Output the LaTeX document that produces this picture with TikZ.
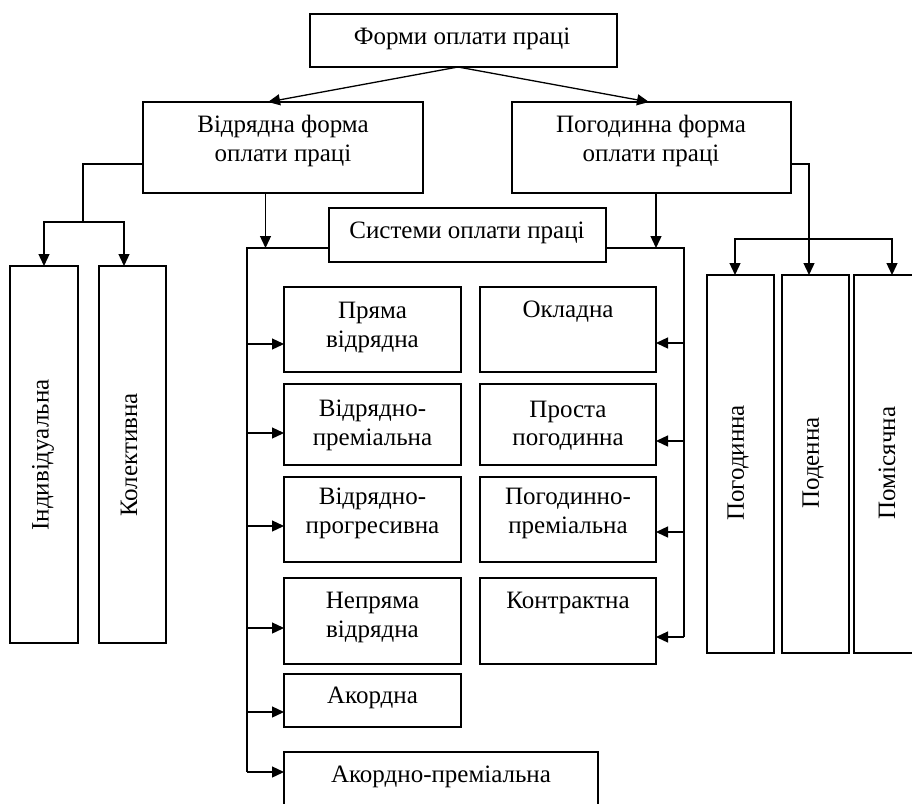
\documentclass[tikz,border=0pt]{standalone}
\usepackage{fontspec}
\setmainfont{Liberation Serif}
\usetikzlibrary{arrows.meta}
\begin{document}
\begin{tikzpicture}[x=1pt,y=-1pt,
 box/.style={draw, line width=1.3pt, anchor=north west, inner sep=0pt, outer sep=0pt},
 txt/.style={align=center, inner sep=0pt, font=\fontsize{25}{28.5}\selectfont},
 arr/.style={-{Triangle[length=12pt,width=11pt]}, line width=1.3pt},
 ln/.style={line width=1.3pt}]
\clip (0,0) rectangle (912,803);
% boxes
\node[box, minimum width=307pt, minimum height=53pt] (top) at (310,14) {};
\node[box, minimum width=280pt, minimum height=91pt] (vid) at (143,102) {};
\node[box, minimum width=279pt, minimum height=91pt] (pog) at (512,102) {};
\node[box, minimum width=277pt, minimum height=54pt] (sys) at (329,208) {};
\node[box, minimum width=68pt, minimum height=377pt] (ind) at (10,266) {};
\node[box, minimum width=67pt, minimum height=377pt] (kol) at (99,266) {};
\node[box, minimum width=177pt, minimum height=85pt] (p1) at (284,287) {};
\node[box, minimum width=177pt, minimum height=81pt] (p2) at (284,384) {};
\node[box, minimum width=177pt, minimum height=85pt] (p3) at (284,477) {};
\node[box, minimum width=177pt, minimum height=86pt] (p4) at (284,578) {};
\node[box, minimum width=177pt, minimum height=53pt] (p5) at (284,674) {};
\node[box, minimum width=314pt, minimum height=80pt] (p6) at (284,752) {};
\node[box, minimum width=176pt, minimum height=85pt] (q1) at (480,287) {};
\node[box, minimum width=176pt, minimum height=81pt] (q2) at (480,384) {};
\node[box, minimum width=176pt, minimum height=85pt] (q3) at (480,477) {};
\node[box, minimum width=176pt, minimum height=86pt] (q4) at (480,578) {};
\node[box, minimum width=67pt, minimum height=378pt] (r1) at (707,275) {};
\node[box, minimum width=67pt, minimum height=378pt] (r2) at (782,275) {};
\node[box, minimum width=67pt, minimum height=378pt] (r3) at (854,275) {};
% texts
\node[txt] (ttop) at (462,39) {Форми оплати праці};
\node[txt] (tvid) at (283,141) {Відрядна форма\\оплати праці};
\node[txt] (tpog) at (651,141) {Погодинна форма\\оплати праці};
\node[txt] (tsys) at (467,233) {Системи оплати праці};
\node[txt, rotate=90] (tind) at (43,455) {Індивідуальна};
\node[txt, rotate=90] (tkol) at (129,455) {Колективна};
\node[txt] (tp1) at (372.5,327.5) {Пряма\\відрядна};
\node[txt] (tp2) at (372.5,425.5) {Відрядно-\\преміальна};
\node[txt] (tp3) at (372.5,513.5) {Відрядно-\\прогресивна};
\node[txt] (tp4) at (372.5,617.5) {Непряма\\відрядна};
\node[txt] (tp5) at (372.5,698) {Акордна};
\node[txt] (tp6) at (441,777) {Акордно-преміальна};
\node[txt] (tq1) at (568,312) {Окладна};
\node[txt] (tq2) at (568,425.5) {Проста\\погодинна};
\node[txt] (tq3) at (568,513.5) {Погодинно-\\преміальна};
\node[txt] (tq4) at (568,603) {Контрактна};
\node[txt, rotate=90] (tr1) at (738,463) {Погодинна};
\node[txt, rotate=90] (tr2) at (813,463) {Поденна};
\node[txt, rotate=90] (tr3) at (887,463) {Помісячна};
% connectors: top level
\draw[arr] ([xshift=-5.5pt]top.south) -- ([xshift=-15pt]vid.north);
\draw[arr] ([xshift=-5.5pt]top.south) -- ([xshift=-2.5pt]pog.north);
% left group
\coordinate (jl) at (83,222);
\draw[ln] ([yshift=-16.5pt]vid.west) -| (jl);
\draw[arr] (jl) -| (ind.north);
\draw[arr] (jl) -| ([xshift=-8.5pt]kol.north);
% left bus
\coordinate (bl) at (247,248);
\coordinate (bl2) at (247,772);
\draw[arr] ([xshift=-17.5pt]vid.south) -- ([xshift=-17.5pt]vid.south |- bl);
\draw[ln] ([yshift=-13pt]sys.west) -- (bl) -- (bl2);
\draw[arr] (bl |- 0,344) -- (p1.west |- 0,344);
\draw[arr] (bl |- 0,433) -- (p2.west |- 0,433);
\draw[arr] (bl |- 0,526) -- (p3.west |- 0,526);
\draw[arr] (bl |- 0,628) -- (p4.west |- 0,628);
\draw[arr] (bl |- 0,712) -- (p5.west |- 0,712);
\draw[arr] (bl2) -- (p6.west |- bl2);
% right bus
\coordinate (br) at (684,248);
\coordinate (br2) at (684,637);
\draw[arr] ([xshift=4.5pt]pog.south) -- ([xshift=4.5pt]pog.south |- br);
\draw[ln] ([yshift=-13pt]sys.east) -- (br) -- (br2);
\draw[arr] (br |- 0,343) -- (q1.east |- 0,343);
\draw[arr] (br |- 0,441) -- (q2.east |- 0,441);
\draw[arr] (br |- 0,532) -- (q3.east |- 0,532);
\draw[arr] (br2) -- (q4.east |- br2);
% right group
\coordinate (jr) at (809,239);
\draw[arr] ([yshift=-16.5pt]pog.east) -| ([xshift=-6.5pt]r2.north);
\draw[arr] (jr) -| ([xshift=-5.5pt]r1.north);
\draw[arr] (jr) -| ([xshift=4.5pt]r3.north);
\end{tikzpicture}
\end{document}
